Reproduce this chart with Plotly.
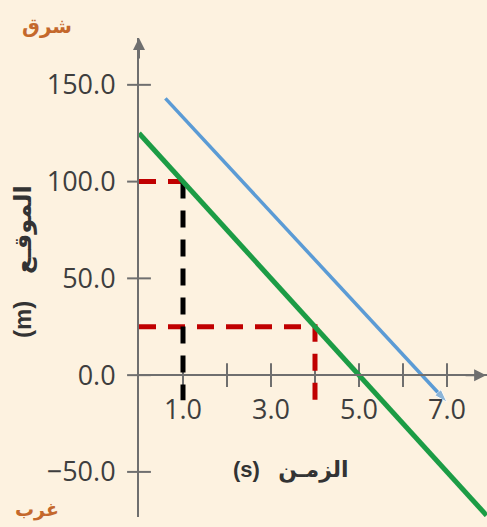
import plotly.graph_objects as go

# --- data -------------------------------------------------------------
green_t = [0.0, 7.9]
green_pos = [125.0, -72.5]

blue_t = [0.6, 7.0]
blue_pos = [143.0, -14.0]

# reading guides (red = position read-off, black = time read-off)
guide_100_t = [0.0, 1.0]
guide_100_pos = [100.0, 100.0]
guide_t1_t = [1.0, 1.0]
guide_t1_pos = [100.0, -13.0]
guide_25_t = [0.0, 4.0, 4.0]
guide_25_pos = [25.0, 25.0, -13.0]

x_tick_vals = [1, 2, 3, 4, 5, 6, 7]
x_tick_text = ["1.0", "", "3.0", "", "5.0", "", "7.0"]
y_tick_vals = [-50, 0, 50, 100, 150]
y_tick_text = ["\u221250.0", "0.0", "50.0", "100.0", "150.0"]

# unit first so that it sits left of (x) / below (y) the Arabic word
x_title = "(s)\u00a0\u00a0\u00a0الزمـن"
y_title = "(m)\u00a0\u00a0\u00a0\u00a0الموقـع"
east_label = "شرق"
west_label = "غرب"

# --- layout geometry --------------------------------------------------
W, H = 487, 527
ML, MR, MT, MB = 139, 0, 38, 10
X_RANGE = [0.0, 7.909]
Y_RANGE = [-73.3, 174.2]
BG = "#fdf2e0"
AXIS = "#6f6f6f"
TICKFONT = dict(family="Open Sans", size=27, color="#3e3e3e")
TITLEFONT = "Liberation Sans, DejaVu Sans"

pw, ph = W - ML - MR, H - MT - MB


def px_x(px):
    return (px - ML) / pw


def px_y(py):
    return (H - MB - py) / ph


x_axis_pos = (0 - Y_RANGE[0]) / (Y_RANGE[1] - Y_RANGE[0])

fig = go.Figure()

# crossing tick marks on both axes
fig.add_trace(go.Scatter(
    x=x_tick_vals, y=[0] * len(x_tick_vals), mode="markers",
    marker=dict(symbol="line-ns", size=17, line=dict(width=2, color=AXIS)),
    cliponaxis=False, hoverinfo="skip", showlegend=False))
fig.add_trace(go.Scatter(
    x=[0] * len(y_tick_vals), y=y_tick_vals, mode="markers",
    marker=dict(symbol="line-ew", size=17, line=dict(width=2, color=AXIS)),
    cliponaxis=False, hoverinfo="skip", showlegend=False))

dash = "17px,12px"
fig.add_trace(go.Scatter(x=guide_25_t, y=guide_25_pos, mode="lines",
                         line=dict(color="#c00000", width=5, dash=dash),
                         showlegend=False))
fig.add_trace(go.Scatter(x=guide_100_t, y=guide_100_pos, mode="lines",
                         line=dict(color="#c00000", width=5, dash=dash),
                         showlegend=False))
fig.add_trace(go.Scatter(x=guide_t1_t, y=guide_t1_pos, mode="lines",
                         line=dict(color="#000000", width=5, dash=dash),
                         showlegend=False))

fig.add_trace(go.Scatter(x=green_t, y=green_pos, mode="lines",
                         line=dict(color="#1c9c45", width=5),
                         showlegend=False))
fig.add_trace(go.Scatter(x=blue_t, y=blue_pos, mode="lines+markers",
                         line=dict(color="#5b9bd5", width=3.5),
                         marker=dict(symbol="arrow", angleref="previous",
                                     size=[0, 14], color="#5b9bd5"),
                         showlegend=False))

fig.update_xaxes(
    range=X_RANGE, anchor="free", position=x_axis_pos,
    showline=True, linecolor=AXIS, linewidth=2,
    showgrid=False, zeroline=False,
    tickvals=x_tick_vals, ticktext=x_tick_text,
    ticks="outside", ticklen=10, tickcolor="rgba(0,0,0,0)",
    tickfont=TICKFONT)
fig.update_yaxes(
    range=Y_RANGE, showline=True, linecolor=AXIS, linewidth=2,
    showgrid=False, zeroline=False,
    tickvals=y_tick_vals, ticktext=y_tick_text,
    ticks="outside", ticklen=16, tickcolor="rgba(0,0,0,0)",
    tickfont=TICKFONT)


def label(px, py, text, size, color, angle=0, family=TITLEFONT):
    return dict(x=px_x(px), y=px_y(py), xref="paper", yref="paper",
                xanchor="center", yanchor="middle", textangle=angle,
                text=text, showarrow=False,
                font=dict(family=family, size=size, color=color))


annotations = [
    # axis arrowheads
    dict(x=0, y=Y_RANGE[1], xref="x", yref="y", ax=0, ay=22,
         showarrow=True, arrowhead=2, arrowsize=1.2, arrowwidth=2,
         arrowcolor=AXIS, text=""),
    dict(x=X_RANGE[1] - 0.02, y=0, xref="x", yref="y", ax=-22, ay=0,
         showarrow=True, arrowhead=2, arrowsize=1.2, arrowwidth=2,
         arrowcolor=AXIS, text=""),
    # axis titles
    label(291, 470, "<b>" + x_title + "</b>", 22, "#333333"),
    label(23, 262, "<b>" + y_title + "</b>", 24, "#333333", angle=-90),
    # direction labels
    label(47, 26, "<b>" + east_label + "</b>", 20, "#c4682c",
          family="DejaVu Sans"),
    label(37, 509, "<b>" + west_label + "</b>", 19, "#c4682c",
          family="DejaVu Sans"),
]

fig.update_layout(
    width=W, height=H,
    margin=dict(l=ML, r=MR, t=MT, b=MB, autoexpand=False),
    paper_bgcolor=BG, plot_bgcolor=BG,
    annotations=annotations,
    showlegend=False,
)

fig.write_html("out.html")
